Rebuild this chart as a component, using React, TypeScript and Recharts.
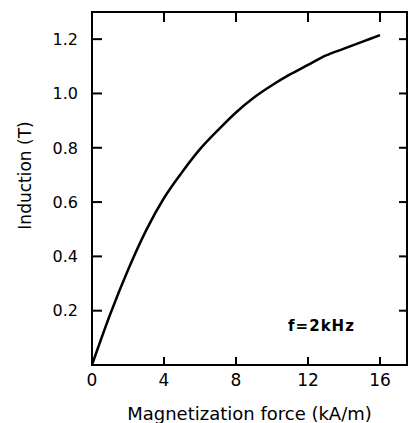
import React from 'react';
import { ComposedChart, Line, Scatter, XAxis, YAxis, ReferenceDot, ReferenceArea } from 'recharts';

const magnetizationForce = [0, 1, 2, 3, 4, 5, 6, 7, 8, 9, 10, 11, 12, 13, 14, 15, 16];
const induction = [0, 0.185, 0.35, 0.495, 0.615, 0.71, 0.795, 0.865, 0.93, 0.985, 1.03, 1.07, 1.105, 1.14, 1.165, 1.19, 1.215];
const xTicks = [0, 4, 8, 12, 16];
const xInnerTicks = [4, 8, 12, 16];
const yTicks = [0.2, 0.4, 0.6, 0.8, 1.0, 1.2];
const yTickLabels = ['0.2', '0.4', '0.6', '0.8', '1.0', '1.2'];
const xDomain = [0, 17.5];
const yDomain = [0, 1.3];
const xTitle = 'Magnetization force (kA/m)';
const yTitle = 'Induction (T)';
const annotation = 'f=2kHz';

const data = magnetizationForce.map((x, i) => ({ x, y: induction[i] }));
const leftMarks = yTicks.map((v) => ({ x: xDomain[0], y: v }));
const rightMarks = yTicks.map((v) => ({ x: xDomain[1], y: v }));
const topMarks = xInnerTicks.map((v) => ({ x: v, y: yDomain[1] }));
const bottomMarks = xInnerTicks.map((v) => ({ x: v, y: yDomain[0] }));

const FONT = '"DejaVu Sans", sans-serif';
const W = 412;
const H = 423;
const M_TOP = 12;
const M_RIGHT = 5;
const Y_AXIS_W = 92;
const X_AXIS_H = 58;

const YTick = (props: any) => {
  const { x, y, payload } = props;
  const v = payload.value;
  const label = yTickLabels[yTicks.indexOf(v)] ?? String(v);
  return (
    <text x={x} y={y} dy="0.36em" textAnchor="end" fontFamily={FONT} fontSize={16} fill="#000">
      {label}
    </text>
  );
};

const XTick = (props: any) => {
  const { x, y, payload } = props;
  return (
    <text x={x} y={y} dy="0.74em" textAnchor="middle" fontFamily={FONT} fontSize={17} fill="#000">
      {String(payload.value)}
    </text>
  );
};

const YTitle = (props: any) => {
  const vb = props.viewBox || {};
  const cx = vb.x + 25;
  const cy = vb.y + vb.height / 2 - 13;
  return (
    <text
      x={cx}
      y={cy}
      transform={`rotate(-90, ${cx}, ${cy})`}
      textAnchor="middle"
      dominantBaseline="central"
      fontFamily={FONT}
      fontSize={17}
      fill="#000"
    >
      {yTitle}
    </text>
  );
};

const mark = (dx: number, dy: number) => (p: any) => (
  <path d={`M${p.cx},${p.cy}l${dx},${dy}`} stroke="#000" strokeWidth={2} fill="none" />
);

export default function App() {
  return (
    <div style={{ position: 'absolute', left: 0, top: 0, background: '#fff' }}>
      <ComposedChart
        width={W}
        height={H}
        data={data}
        margin={{ top: M_TOP, right: M_RIGHT, left: 0, bottom: 0 }}
      >
        <XAxis
          dataKey="x"
          type="number"
          domain={xDomain}
          ticks={xTicks}
          height={X_AXIS_H}
          tickSize={0}
          tickMargin={8}
          axisLine={{ stroke: '#000', strokeWidth: 2 }}
          tickLine={false}
          tick={<XTick />}
          label={{
            value: xTitle,
            position: 'insideBottom',
            offset: 3,
            fill: '#000',
            fontSize: 18,
            fontFamily: FONT,
          }}
        />
        <YAxis
          type="number"
          domain={yDomain}
          ticks={yTicks}
          width={Y_AXIS_W}
          tickSize={0}
          tickMargin={14}
          axisLine={{ stroke: '#000', strokeWidth: 2 }}
          tickLine={false}
          tick={<YTick />}
          label={{ content: YTitle }}
        />
        <ReferenceArea
          x1={xDomain[0]}
          x2={xDomain[1]}
          y1={yDomain[0]}
          y2={yDomain[1]}
          fill="none"
          fillOpacity={0}
          stroke="#000"
          strokeWidth={2}
          strokeOpacity={1}
        />
        <Scatter data={leftMarks} dataKey="y" shape={mark(10, 0)} isAnimationActive={false} />
        <Scatter data={rightMarks} dataKey="y" shape={mark(-8, 0)} isAnimationActive={false} />
        <Scatter data={topMarks} dataKey="y" shape={mark(0, 10)} isAnimationActive={false} />
        <Scatter data={bottomMarks} dataKey="y" shape={mark(0, -8)} isAnimationActive={false} />
        <Line
          data={data}
          dataKey="y"
          type="monotone"
          stroke="#000"
          strokeWidth={2.5}
          dot={false}
          isAnimationActive={false}
        />
        <ReferenceDot
          x={12.75}
          y={0.144}
          r={0}
          fill="none"
          stroke="none"
          label={{
            value: annotation,
            position: 'center',
            fill: '#000',
            fontSize: 15,
            fontWeight: 'bold',
            fontFamily: FONT,
            letterSpacing: 1,
          }}
        />
      </ComposedChart>
    </div>
  );
}
